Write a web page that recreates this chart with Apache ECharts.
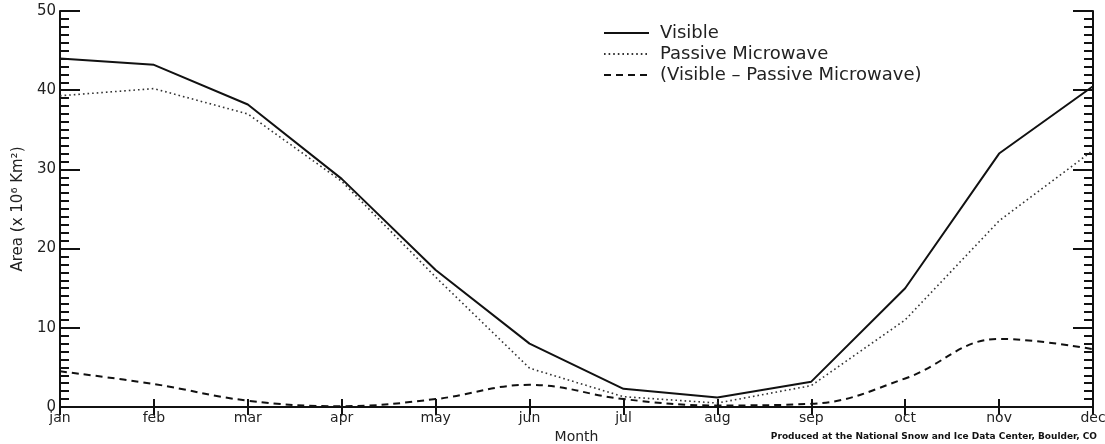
<!DOCTYPE html>
<html>
<head>
<meta charset="utf-8">
<script src="https://cdn.jsdelivr.net/npm/echarts@6/dist/echarts.min.js"></script>
<style>
  html, body { margin: 0; padding: 0; background: #fff; }
  #chart { width: 1105px; height: 444px; }
</style>
</head>
<body>
<div id="chart"></div>
<script>
// months along the x axis
const months = ["jan", "feb", "mar", "apr", "may", "jun", "jul", "aug", "sep", "oct", "nov", "dec"];
// snow cover area, x 10^6 km^2
const visible = [44.0, 43.2, 38.2, 28.8, 17.3, 8.0, 2.3, 1.2, 3.2, 15.0, 32.0, 40.5];
const passiveMicrowave = [39.3, 40.2, 37.0, 28.5, 16.4, 4.9, 1.3, 0.5, 2.7, 11.0, 23.5, 32.4];
const difference = [4.5, 2.9, 0.8, 0.1, 1.0, 2.8, 1.0, 0.2, 0.4, 3.6, 8.6, 7.3];

const font = "DejaVu Sans";
const ink = "#111";

let myChart = echarts.init(document.getElementById("chart"));

let option = {
  animation: false,
  backgroundColor: "#fff",
  grid: { left: 60, right: 12, top: 11, bottom: 37, outerBoundsMode: "none", containLabel: false },
  legend: {
    orient: "vertical",
    left: 603,
    top: 24,
    padding: 0,
    itemWidth: 45,
    itemHeight: 14,
    itemGap: 3,
    itemStyle: { color: "transparent", borderWidth: 0 },
    textStyle: { fontFamily: font, fontSize: 18, lineHeight: 18, color: "#222", padding: [0, 0, 0, 6] },
    data: ["Visible", "Passive Microwave", "(Visible \u2013 Passive Microwave)"]
  },
  xAxis: [
    {
      type: "category",
      data: months,
      boundaryGap: false,
      name: "Month",
      nameLocation: "middle",
      nameGap: 16,
      nameTextStyle: { fontFamily: font, fontSize: 14, color: "#222" },
      axisLine: { lineStyle: { color: ink, width: 2 } },
      axisTick: { inside: true, length: 8, lineStyle: { color: ink, width: 2 } },
      axisLabel: { fontFamily: font, fontSize: 14, color: "#222", margin: 4 },
      splitLine: { show: false }
    },
    {
      type: "category",
      data: months,
      boundaryGap: false,
      position: "top",
      axisLine: { lineStyle: { color: ink, width: 2 } },
      axisTick: { inside: true, length: 8, lineStyle: { color: ink, width: 2 } },
      axisLabel: { show: false },
      splitLine: { show: false }
    }
  ],
  yAxis: [
    {
      type: "value",
      min: 0,
      max: 50,
      interval: 10,
      name: "Area (x 10\u2076 Km\u00b2)",
      nameLocation: "middle",
      nameGap: 34,
      nameRotate: 90,
      nameTextStyle: { fontFamily: font, fontSize: 15, color: "#222" },
      axisLine: { show: true, lineStyle: { color: ink, width: 2 } },
      axisTick: { show: true, inside: true, length: 20, lineStyle: { color: ink, width: 2 } },
      minorTick: { show: true, splitNumber: 10, length: 9, lineStyle: { color: ink, width: 2 } },
      axisLabel: { fontFamily: font, fontSize: 15, color: "#222", margin: 4 },
      splitLine: { show: false }
    },
    {
      type: "value",
      min: 0,
      max: 50,
      interval: 10,
      position: "right",
      axisLine: { show: true, lineStyle: { color: ink, width: 2 } },
      axisTick: { show: true, inside: true, length: 20, lineStyle: { color: ink, width: 2 } },
      minorTick: { show: true, splitNumber: 10, length: 9, lineStyle: { color: ink, width: 2 } },
      axisLabel: { show: false },
      splitLine: { show: false }
    }
  ],
  series: [
    {
      name: "Visible",
      type: "line",
      data: visible,
      symbol: "none",
      lineStyle: { color: ink, width: 2, type: "solid" },
      itemStyle: { color: ink }
    },
    {
      name: "Passive Microwave",
      type: "line",
      data: passiveMicrowave,
      symbol: "none",
      lineStyle: { color: "#333", width: 1.6, type: [1.6, 3] },
      itemStyle: { color: "#333" }
    },
    {
      name: "(Visible \u2013 Passive Microwave)",
      type: "line",
      data: difference,
      symbol: "none",
      smooth: 0.4,
      lineStyle: { color: ink, width: 2, type: [7, 5] },
      itemStyle: { color: ink }
    }
  ],
  graphic: [
    {
      type: "text",
      right: 8,
      bottom: 3,
      style: {
        text: "Produced at the National Snow and Ice Data Center, Boulder, CO",
        font: "bold 9px " + font,
        fill: "#111"
      }
    }
  ]
};

myChart.setOption(option);
</script>
</body>
</html>
